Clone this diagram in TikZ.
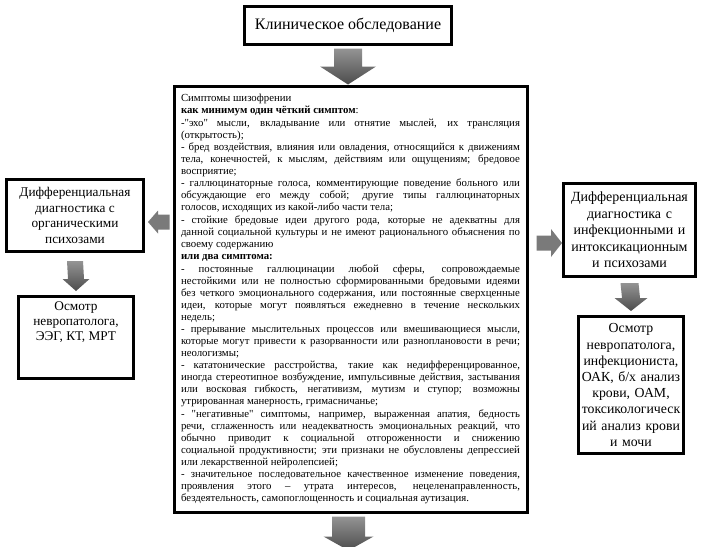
\documentclass[tikz,border=0pt]{standalone}
\usepackage{fontspec}
\setmainfont{Liberation Serif}
\usetikzlibrary{calc}
\tikzset{
  box/.style={draw=black, line width=3pt, fill=white, inner sep=0pt},
  cbox/.style={box, align=center},
  vfill/.style={top color=black!42, bottom color=black!70, draw=none},
  hfill/.style={fill=black!52, draw=none},
}
% block arrows between named points: tail, tip, shaft half width, head half width, head length
\newcommand\arrdown[5]{\shade[vfill] ($(#1)+(-#3,0)$) -- ($(#2)+(-#3,-#5)$) -- ($(#2)+(-#4,-#5)$) -- (#2) -- ($(#2)+(#4,-#5)$) -- ($(#2)+(#3,-#5)$) -- ($(#1)+(#3,0)$) -- cycle;}
\newcommand\arrleft[5]{\fill[hfill] ($(#1)+(0,-#3)$) -- ($(#2)+(#5,-#3)$) -- ($(#2)+(#5,-#4)$) -- (#2) -- ($(#2)+(#5,#4)$) -- ($(#2)+(#5,#3)$) -- ($(#1)+(0,#3)$) -- cycle;}
\newcommand\arrright[5]{\fill[hfill] ($(#1)+(0,-#3)$) -- ($(#2)+(-#5,-#3)$) -- ($(#2)+(-#5,-#4)$) -- (#2) -- ($(#2)+(-#5,#4)$) -- ($(#2)+(-#5,#3)$) -- ($(#1)+(0,#3)$) -- cycle;}
\newcommand\qq{\textquotedbl{}}
\begin{document}
\begin{tikzpicture}[x=1pt,y=-1pt]
\useasboundingbox (0,0) rectangle (701,546);

% top box
\node[cbox, minimum width=207, minimum height=38,
  font=\fontsize{16}{19}\selectfont] (top) at (348,25) {Клиническое обследование};

% central box
\node[box, minimum width=353, minimum height=426, text width=339, align=justify,
  font=\fontsize{10.8}{12}\selectfont] (mid) at (350.5,299) {%
\setlength{\parindent}{0pt}\setlength{\parskip}{0.4pt}%
\tolerance=10000 \hyphenpenalty=10000 \exhyphenpenalty=10000
Симптомы шизофрении\par
\textbf{как минимум один чёткий симптом}:\par
-\qq эхо\qq{} мысли, вкладывание или отнятие мыслей, их трансляция\linebreak
(открытость);\par
- бред воздействия, влияния или овладения, относящийся к движениям\linebreak
тела, конечностей, к мыслям, действиям или ощущениям; бредовое\linebreak
восприятие;\par
- галлюцинаторные голоса, комментирующие поведение больного или\linebreak
обсуждающие его между собой; другие типы галлюцинаторных\linebreak
голосов, исходящих из какой-либо части тела;\par
- стойкие бредовые идеи другого рода, которые не адекватны для\linebreak
данной социальной культуры и не имеют рационального объяснения по\linebreak
своему содержанию\par
\textbf{или два симптома:}\par
- постоянные галлюцинации любой сферы, сопровождаемые\linebreak
нестойкими или не полностью сформированными бредовыми идеями\linebreak
без четкого эмоционального содержания, или постоянные сверхценные\linebreak
идеи, которые могут появляться ежедневно в течение нескольких\linebreak
недель;\par
- прерывание мыслительных процессов или вмешивающиеся мысли,\linebreak
которые могут привести к разорванности или разноплановости в речи;\linebreak
неологизмы;\par
- кататонические расстройства, такие как недифференцированное,\linebreak
иногда стереотипное возбуждение, импульсивные действия, застывания\linebreak
или восковая гибкость, негативизм, мутизм и ступор; возможны\linebreak
утрированная манерность, гримасничанье;\par
- \qq негативные\qq{} симптомы, например, выраженная апатия, бедность\linebreak
речи, сглаженность или неадекватность эмоциональных реакций, что\linebreak
обычно приводит к социальной отгороженности и снижению\linebreak
социальной продуктивности; эти признаки не обусловлены депрессией\linebreak
или лекарственной нейролепсией;\par
- значительное последовательное качественное изменение поведения,\linebreak
проявления этого – утрата интересов, нецеленаправленность,\linebreak
бездеятельность, самопоглощенность и социальная аутизация.};

% left boxes
\node[cbox, minimum width=137, minimum height=72,
  font=\fontsize{13.3}{15.7}\selectfont] (left1) at (75,215.5)
  {Дифференциальная\\диагностика с\\органическими\\психозами};
\node[box, minimum width=115, minimum height=82,
  font=\fontsize{13.3}{15}\selectfont] (left2) at (76,337.5)
  {\parbox[c][82pt][t]{113pt}{\centering\vspace{5pt}Осмотр\\невропатолога,\\ЭЭГ, КТ, МРТ}};

% right boxes
\node[cbox, minimum width=132, minimum height=93, text width=130,
  font=\fontsize{14}{16.4}\selectfont] (right1) at (629.5,230)
  {Дифференциальная\\диагностика с\\инфекционными и\\интоксикационным\\и психозами};
\node[cbox, minimum width=105, minimum height=137, text width=104,
  font=\fontsize{13.8}{16.2}\selectfont] (right2) at (631,385)
  {Осмотр\\невропатолога,\\инфекциониста,\\ОАК, б/х анализ\\крови, ОАМ,\\токсикологическ\\ий анализ крови\\и мочи};

% block arrows
\arrdown{$(top.south)+(0,3)$}{top.south |- mid.north}{14}{28}{18}
\arrdown{$(mid.south)+(-2,3)$}{$(mid.south)+(-2,37)$}{16.5}{25}{14}
\arrleft{$(mid.west |- 0,222)+(-3,0)$}{$(left1.east |- 0,222)+(3,0)$}{7.5}{11.5}{10}
\arrright{$(mid.east |- 0,243)+(8,0)$}{right1.west |- 0,243}{7.5}{14}{11}
\arrdown{$(left1.south)+(0,8)$}{$(left2.north)+(0,-4)$}{8}{13.5}{12}
\arrdown{$(right1.south)+(0,5)$}{$(right2.north)+(0,-4)$}{9}{16.5}{13}
\end{tikzpicture}
\end{document}
